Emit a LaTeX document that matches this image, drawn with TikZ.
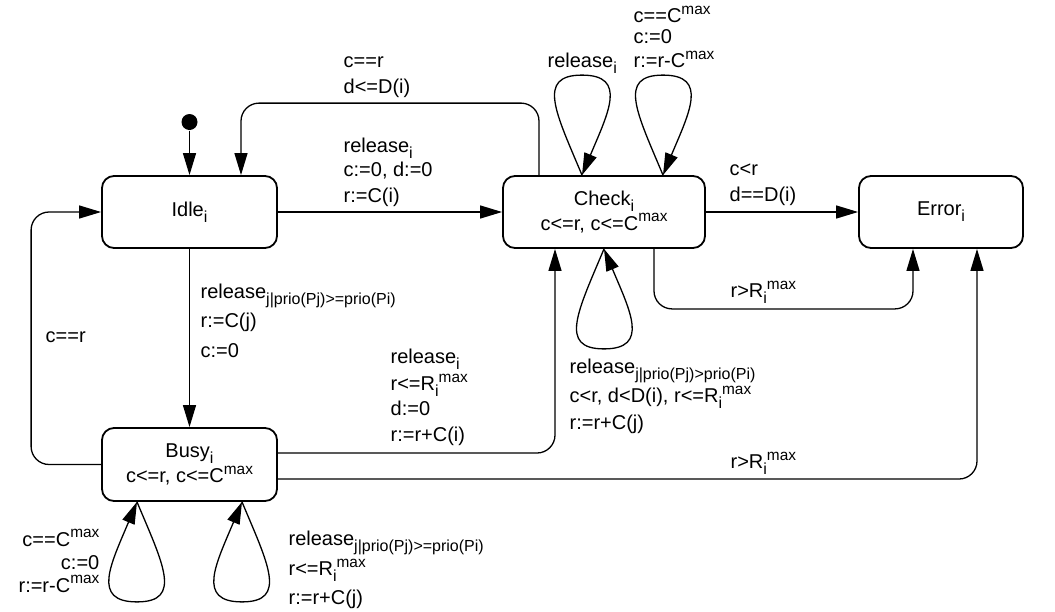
\documentclass[tikz,border=0pt]{standalone}
\usepackage{fontspec}
\setmainfont{Liberation Sans}
\usetikzlibrary{calc,arrows.meta}

% sub- and superscripts set in the text font
\newcommand{\tsub}[1]{\raisebox{-3pt}{\fontsize{8}{8}\selectfont #1}}
\newcommand{\tsup}[1]{\raisebox{4.3pt}{\fontsize{7.7}{8}\selectfont #1}}

% teardrop self-loop at point #1; #2 = -1 (up) or 1 (down); #3 = side taken first
\newcommand{\tear}[3]{%
  \draw[->] (#1)
    .. controls ($(#1)+(#3*-26,#2*62)$) and ($(#1)+(#3*-46,#2*100)$) .. ($(#1)+(0,#2*100)$)
    .. controls ($(#1)+(#3*46,#2*100)$) and ($(#1)+(#3*26,#2*62)$) .. (#1);}

\begin{document}
\begin{tikzpicture}[x=0.5pt,y=-0.5pt,line width=0.65pt,
  >={Triangle[length=11pt,width=6.5pt]},
  font=\fontsize{10}{12.5}\selectfont]
\tikzset{
  state/.style={draw,line width=0.9pt,rounded corners=6pt,minimum height=36pt,align=center,inner sep=2pt},
  lbl/.style={inner sep=0pt,align=left,anchor=north west},
  lblr/.style={inner sep=0pt,align=right,anchor=north east},
  wire/.style={->,rounded corners=9pt},
}
\useasboundingbox (0,0) rectangle (1055,611);

% states
\node[state,minimum width=87.5pt] (idle) at (189.5,212) {Idle\tsub{i}};
\node[state,minimum width=101pt] (check) at (604,212) {Check\tsub{i}\\c<=r, c<=C\tsup{max}};
\node[state,minimum width=82pt] (error) at (941,212) {Error\tsub{i}};
\node[state,minimum width=87.5pt,minimum height=36.5pt] (busy) at (189.5,464.5) {Busy\tsub{i}\\c<=r, c<=C\tsup{max}};
\node[circle,fill,inner sep=0pt,minimum size=8pt] (init) at (189.5,122) {};

% transitions
\draw[->] (init) -- (idle);
\draw[->] (idle) -- (check);
\draw[->] (check) -- (error);
\draw[->] (idle) -- (busy);
\draw[wire] (busy.west) -- ++(-70,0) |- (idle.west);
\draw[wire] ($(check.north)+(-65,0)$) -- ++(0,-72) -| ($(idle.north)+(51.5,0)$);
\draw[wire] ($(check.south)+(50,0)$) -- ++(0,60) -| ($(error.south)+(-28,0)$);
\draw[wire] ($(busy.east)+(0,-11.5)$) -| ($(check.south)+(-49,0)$);
\draw[wire] ($(busy.east)+(0,14.5)$) -| ($(error.south)+(36,0)$);

% self-loops
\coordinate (ct1) at ($(check.north)+(-22,0)$);
\coordinate (ct2) at ($(check.north)+(59,0)$);
\coordinate (cb) at (check.south);
\coordinate (bb1) at ($(busy.south)+(-52.5,0)$);
\coordinate (bb2) at ($(busy.south)+(52.5,0)$);
\tear{ct1}{-1}{1}
\tear{ct2}{-1}{1}
\tear{cb}{1}{1}
\tear{bb1}{1}{-1}
\tear{bb2}{1}{-1}

% transition labels
\node[lbl] (t1) at (343,49.5) {\strut c==r\\[0.5pt]d<=D(i)};
\node[lbl] (t2) at (343,134.5) {\strut release\tsub{i}\\[-0.5pt]c:=0, d:=0\\[0.5pt]r:=C(i)};
\node[lbl] (t3) at (729,157.5) {\strut c<r\\[0.5pt]d==D(i)};
\node[lbl] (t4) at (200,280.5) {\strut release\tsub{j|prio(Pj)>=prio(Pi)}\\[2pt]r:=C(j)\\[2.5pt]c:=0};
\node[lbl] (t5) at (45,324.5) {\strut c==r};
\node[lbl] (t6) at (390,345.5) {\strut release\tsub{i}\\[1pt]r<=R\tsub{i}\tsup{max}\\d:=0\\[0.5pt]r:=r+C(i)};
\node[lbl] (t7) at (569,355.5) {\strut release\tsub{j|prio(Pj)>prio(Pi)}\\[0.5pt]c<r, d<D(i), r<=R\tsub{i}\tsup{max}\\[1pt]r:=r+C(j)};
\node[lbl] (t8) at (730,279.5) {\strut r>R\tsub{i}\tsup{max}};
\node[lbl] (t9) at (730,450.5) {\strut r>R\tsub{i}\tsup{max}};
\node[lbl] (t10) at (547,49.5) {\strut release\tsub{i}};
\node[lbl] (t11) at (633,4.5) {\strut c==C\tsup{max}\\[-2pt]c:=0\\[-0.5pt]r:=r-C\tsup{max}};
\node[lblr] (t12) at (100,528) {\strut c==C\tsup{max}\\[-1pt]c:=0\\[-1pt]r:=r-C\tsup{max}};
\node[lbl] (t13) at (288,527.5) {\strut release\tsub{j|prio(Pj)>=prio(Pi)}\\[1pt]r<=R\tsub{i}\tsup{max}\\[2pt]r:=r+C(j)};
\end{tikzpicture}
\end{document}
